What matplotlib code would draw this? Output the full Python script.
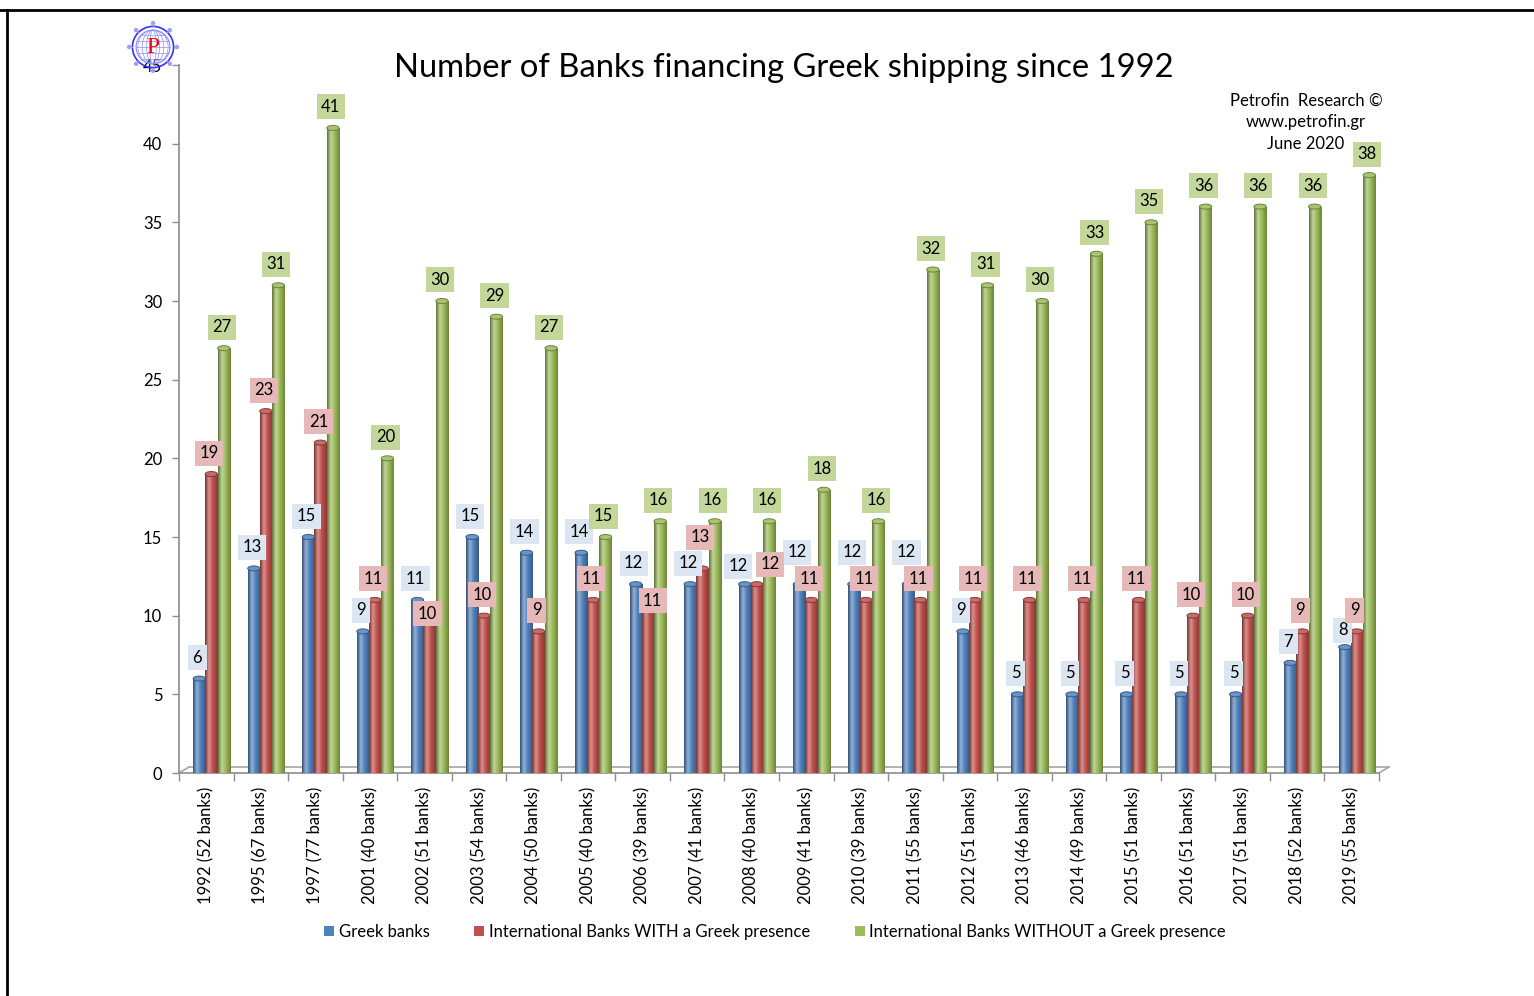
import numpy as np
import matplotlib
matplotlib.use("Agg")
import matplotlib.pyplot as plt
from matplotlib.colors import LinearSegmentedColormap, to_rgb
from matplotlib.patches import Ellipse, Patch, Circle
from matplotlib.lines import Line2D
from matplotlib.transforms import ScaledTranslation

# ---- data -------------------------------------------------------------
years = ["1992", "1995", "1997", "2001", "2002", "2003", "2004", "2005",
         "2006", "2007", "2008", "2009", "2010", "2011", "2012", "2013",
         "2014", "2015", "2016", "2017", "2018", "2019"]
total_banks = [52, 67, 77, 40, 51, 54, 50, 40, 39, 41, 40, 41, 39, 55,
               51, 46, 49, 51, 51, 51, 52, 55]
greek_banks = [6, 13, 15, 9, 11, 15, 14, 14, 12, 12, 12, 12, 12, 12,
               9, 5, 5, 5, 5, 5, 7, 8]
intl_with_presence = [19, 23, 21, 11, 10, 10, 9, 11, 11, 13, 12, 11, 11, 11,
                      11, 11, 11, 11, 10, 10, 9, 9]
intl_without_presence = [27, 31, 41, 20, 30, 29, 27, 15, 16, 16, 16, 18, 16, 32,
                         31, 30, 33, 35, 36, 36, 36, 38]
series_names = ["Greek banks",
                "International Banks WITH a Greek presence",
                "International Banks WITHOUT a Greek presence"]
y_ticks = [0, 5, 10, 15, 20, 25, 30, 35, 40, 45]
note_lines = ["Petrofin  Research ©", "www.petrofin.gr", "June 2020"]

# ---- styling ----------------------------------------------------------
plt.rcParams["font.family"] = ["Lato", "DejaVu Sans"]
bar_colors = ["#4f81bd", "#c0504d", "#9bbb59"]
box_colors = ["#dce6f2", "#e6b9b8", "#c4d79b"]
series_shift = [-0.128, 0.092, 0.321]     # position inside each category
bar_width = 0.225
depth_px = (10, 6)                        # floor depth offset in pixels
label_size = 12

# label nudges (pixels, x right / y up) for labels moved off their default spot
default_offset = (-2, 21)
label_nudge = {
    (1, 4): (-2, 2),
    (1, 8): (5, -1),
    (1, 9): (-2, 31),
    (0, 10): (-7, 18),
    (1, 10): (13, 20),
    (0, 11): (-2, 32),
    (0, 12): (-2, 32),
    (0, 13): (-2, 32),
    (0, 21): (-2, 17),
}

W, H = 1534, 996
fig = plt.figure(figsize=(W / 100, H / 100), dpi=100)
ax = fig.add_axes([179 / W, 1 - 773 / H, 1200 / W, 708 / H])

x = np.arange(len(years))
series = [greek_banks, intl_with_presence, intl_without_presence]


def cylinder_cmap(color):
    base = np.array(to_rgb(color))
    dark = base * 0.62
    light = base + (1 - base) * 0.38
    return LinearSegmentedColormap.from_list(
        "cyl", [(0.0, dark), (0.3, light), (0.6, base), (1.0, base * 0.7)])


grad = np.linspace(0, 1, 64).reshape(1, -1)
for si, vals in enumerate(series):
    cmap = cylinder_cmap(bar_colors[si])
    base = np.array(to_rgb(bar_colors[si]))
    bars = ax.bar(x + series_shift[si], vals, width=bar_width,
                  color=bar_colors[si], edgecolor="none", zorder=3)
    for k, (rect, v) in enumerate(zip(bars, vals)):
        x0, w, h = rect.get_x(), rect.get_width(), rect.get_height()
        im = ax.imshow(grad, extent=(x0, x0 + w, 0, h), aspect="auto",
                       cmap=cmap, zorder=4, interpolation="bilinear")
        im.set_clip_path(rect)
        ax.add_patch(Ellipse((x0 + w / 2, h), w, 0.32,
                             facecolor=base + (1 - base) * 0.15,
                             edgecolor=base * 0.7, lw=0.7, zorder=5))
        dx, dy = label_nudge.get((si, k), default_offset)
        ax.annotate(str(v), xy=(x0 + w / 2, h), xytext=(dx, dy),
                    textcoords="offset pixels", ha="center", va="center",
                    fontsize=label_size, color="black", zorder=10,
                    bbox=dict(boxstyle="square,pad=0.27",
                              fc=box_colors[si], ec="none"))

ax.set_xlim(-0.5, len(years) - 0.5)
ax.set_ylim(0, 45)

# floor of the 3-D plot area: back edge plus the two slanted side edges
shift = ScaledTranslation(depth_px[0] / 100, depth_px[1] / 100,
                          fig.dpi_scale_trans)
xl = ax.get_xlim()
ax.plot(xl, [0, 0], transform=ax.transData + shift, color="#a6a6a6",
        lw=1.2, zorder=2, clip_on=False)
for xe in xl:
    px, py = ax.transData.transform((xe, 0))
    ax.add_line(Line2D([px, px + depth_px[0]], [py, py + depth_px[1]],
                       transform=None, color="#a6a6a6", lw=1.2, zorder=2,
                       clip_on=False))

# axes styling
for s in ("top", "right"):
    ax.spines[s].set_visible(False)
for s in ("left", "bottom"):
    ax.spines[s].set_color("#8c8c8c")
    ax.spines[s].set_linewidth(1.2)
ax.set_yticks(y_ticks)
ax.tick_params(axis="y", direction="out", length=5, width=1.0,
               color="#8c8c8c", labelsize=label_size, pad=7)
ax.set_xticks(x)
ax.set_xticklabels([f"{y} ({n} banks)" for y, n in zip(years, total_banks)],
                   rotation=90, fontsize=label_size)
ax.tick_params(axis="x", which="major", length=0, pad=10)
ax.set_xticks(np.arange(-0.5, len(years)), minor=True)
ax.tick_params(axis="x", which="minor", direction="out", length=6,
               width=1.0, color="#8c8c8c")
ax.patch.set_alpha(0)

# title and notes
fig.text(784 / W, 1 - 77 / H, "Number of Banks financing Greek shipping since 1992",
         ha="center", va="baseline", fontsize=23.6)
for line, base_y in zip(note_lines, (106, 127.5, 149)):
    fig.text(1306 / W, 1 - base_y / H, line, ha="center", va="baseline",
             fontsize=label_size)

# legend
handles = [Patch(facecolor=c, edgecolor="none") for c in bar_colors]
fig.legend(handles, series_names, loc="center", ncol=3,
           bbox_to_anchor=(775 / W, 1 - 932 / H), frameon=False,
           fontsize=label_size, handlelength=0.6, handleheight=0.6,
           handletextpad=0.25, columnspacing=2.7)

# outer frame (top and left edges)
fig.add_artist(Line2D([0, 1], [1 - 10 / H, 1 - 10 / H], transform=fig.transFigure,
                      color="black", lw=2))
fig.add_artist(Line2D([7 / W, 7 / W], [0, 1 - 10 / H], transform=fig.transFigure,
                      color="black", lw=2))

# Petrofin globe emblem
lax = fig.add_axes([(153 - 26) / W, 1 - (47 + 26) / H, 52 / W, 52 / H])
lax.set_xlim(-1.2, 1.2)
lax.set_ylim(-1.2, 1.2)
lax.set_aspect("equal")
lax.axis("off")
blue = "#3333ff"
lax.add_patch(Circle((0, 0), 0.95, fill=False, ec=blue, lw=1.2))
lax.add_patch(Circle((0, 0), 0.78, fill=False, ec="#7f7fff", lw=0.7))
for wdt in (0.3, 0.6, 1.0, 1.4):
    lax.add_patch(Ellipse((0, 0), wdt, 1.56, fill=False, ec="#8f8fff", lw=0.5))
for yy in (-0.55, -0.28, 0, 0.28, 0.55):
    hw = np.sqrt(0.78 ** 2 - yy ** 2)
    lax.plot([-hw, hw], [yy, yy], color="#8f8fff", lw=0.5)
for ang in np.arange(0, 360, 45):
    r = np.deg2rad(ang)
    lax.plot([0.95 * np.cos(r), 1.08 * np.cos(r)], [0.95 * np.sin(r), 1.08 * np.sin(r)],
             color="#9f9fff", lw=0.8)
    lax.add_patch(Circle((1.1 * np.cos(r), 1.1 * np.sin(r)), 0.07, color="#9f9fff"))
lax.text(0, -0.02, "P", color="red", ha="center", va="center", fontsize=17,
         family=["Liberation Serif", "DejaVu Serif"])

fig.savefig("out.png", dpi=100)
